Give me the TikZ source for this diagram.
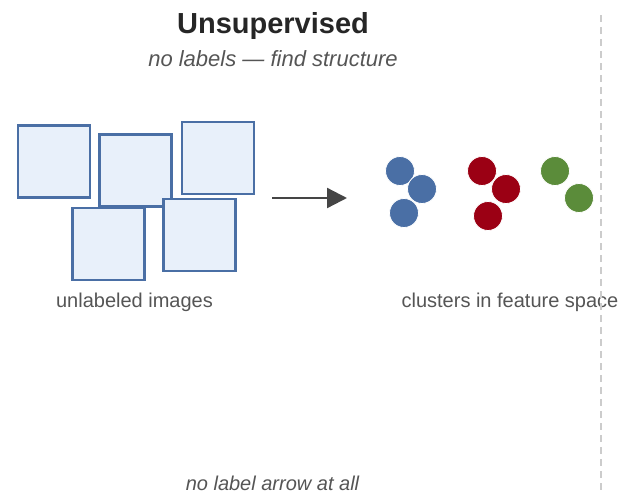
\documentclass[tikz,border=0pt]{standalone}
\usepackage{fontspec}
\setmainfont{Liberation Sans}
\usetikzlibrary{arrows.meta}

\definecolor{boxblue}{HTML}{4A6FA5}
\definecolor{boxfill}{HTML}{E8F0FA}
\definecolor{dotred}{HTML}{9B0014}
\definecolor{dotgreen}{HTML}{5B8C3A}
\definecolor{textgray}{HTML}{555555}

\tikzset{
  imgbox/.style={draw=boxblue, fill=boxfill, line width=2.2pt, minimum size=72pt, inner sep=0pt},
  dot/.style={circle, draw=white, line width=0.8pt, minimum size=29pt, inner sep=0pt},
  caption/.style={text=textgray, font=\fontsize{20}{24}\selectfont, anchor=base}
}

\begin{document}
\begin{tikzpicture}[x=1pt, y=-1pt]
    \useasboundingbox (0,0) rectangle (621,493);

    % Title
    \node[anchor=base, text=black!85, font=\fontsize{29}{34}\selectfont\bfseries] (title) at (273,33) {Unsupervised};
    \node[anchor=base, text=textgray, font=\fontsize{22}{26}\selectfont\itshape] (subtitle) at (273,66) {no labels --- find structure};

    % Images
    \node[imgbox] (img1) at (54,161.5) {};
    \node[imgbox] (img2) at (135.5,170.5) {};
    \node[imgbox] (img3) at (218,158) {};
    \node[imgbox] (img4) at (108.5,244) {};
    \node[imgbox] (img5) at (199.5,235) {};
    \node[caption] (imglabel) at (134.5,307) {unlabeled images};

    % Arrow
    \coordinate (arrowstart) at (272,198);
    \coordinate (arrowend) at (347,198);
    \draw[black!73, line width=2.3pt, -{Triangle[length=20pt, width=20pt]}] (arrowstart) -- (arrowend);

    % Clusters
    \node[dot, fill=boxblue] (blue1) at (400,171) {};
    \node[dot, fill=boxblue] (blue2) at (422,189) {};
    \node[dot, fill=boxblue] (blue3) at (404,213) {};
    \node[dot, fill=dotred] (red1) at (482,171) {};
    \node[dot, fill=dotred] (red2) at (506,189) {};
    \node[dot, fill=dotred] (red3) at (488,216) {};
    \node[dot, fill=dotgreen] (green1) at (555,171) {};
    \node[dot, fill=dotgreen] (green2) at (579,198) {};
    \node[caption] (clusterlabel) at (510,307) {clusters in feature space};

    % Divider
    \coordinate (divtop) at (601,15);
    \coordinate (divbottom) at (601,493);
    \draw[black!20, line width=1.5pt, dash pattern=on 7pt off 5pt] (divtop) -- (divbottom);

    % Note
    \node[caption, font=\fontsize{20}{24}\selectfont\itshape] (note) at (272.5,490) {no label arrow at all};
\end{tikzpicture}
\end{document}
